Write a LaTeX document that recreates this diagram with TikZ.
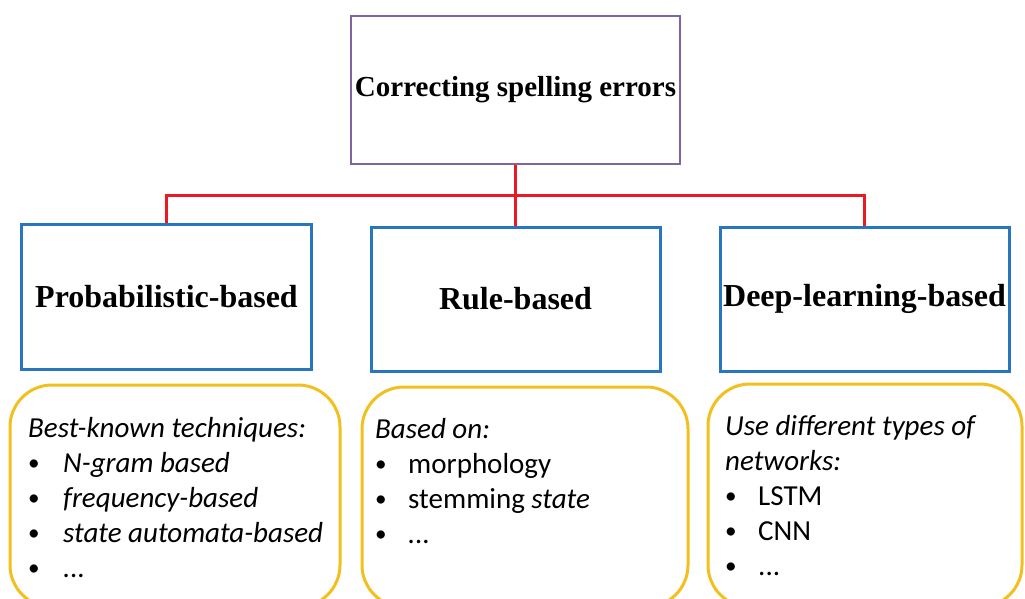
\documentclass[tikz,border=0pt]{standalone}
\usepackage{fontspec}
\setmainfont{Liberation Serif}
\newfontfamily\listfont{Carlito}

\definecolor{rootline}{RGB}{128,100,162}
\definecolor{catline}{RGB}{40,118,190}
\definecolor{noteline}{RGB}{242,192,30}
\definecolor{linkline}{RGB}{235,25,35}

% bullet item with a fixed indent
\newcommand\itm[2][34pt]{\makebox[#1][l]{\raisebox{1.5pt}{\scalebox{0.8}{•}}}#2\\}

\tikzset{
  rootbox/.style={draw=rootline, line width=2.8pt, minimum width=329pt, minimum height=148pt,
                  inner sep=0pt, font=\fontsize{29}{34}\selectfont\bfseries},
  catbox/.style={draw=catline, line width=3pt, minimum width=289pt, minimum height=144pt,
                 inner sep=0pt, font=\fontsize{32}{38}\selectfont\bfseries},
  notebox/.style={draw=noteline, line width=3pt, rounded corners=42pt, inner sep=0pt},
  notetext/.style={anchor=base west, inner sep=0pt, font=\listfont\fontsize{29}{35}\selectfont},
  link/.style={draw=linkline, line width=3pt},
}

\begin{document}
\begin{tikzpicture}[x=1pt,y=-1pt]
\useasboundingbox (0,0) rectangle (1025,598);

% hierarchy boxes
\node[rootbox] (root) at (515.5,90) {Correcting spelling errors};
\node[catbox, minimum width=290pt, minimum height=145pt] (prob) at (166.5,296.5) {Probabilistic-based};
\node[catbox] (rule) at (515.5,299) {Rule-based};
\node[catbox] (deep) at (864.5,299) {Deep-learning-based};

% connectors
\coordinate (bus) at (516,195);
\draw[link] (root.south) -- (rule.north);
\draw[link] (prob.north) |- (bus) -| (deep.north);

% description panels
\node[notebox, minimum width=330pt, minimum height=222pt] (probnote) at (175,496) {};
\node[notebox, minimum width=326pt, minimum height=220pt] (rulenote) at (525,497) {};
\node[notebox, minimum width=314pt, minimum height=223pt] (deepnote) at (865,495.5) {};

\node[notetext] (probtext) at (28,437) {\begin{minipage}[t]{310pt}\raggedright
\textit{Best-known techniques:}\\
\itm[35pt]{\textit{N-gram based}}
\itm[35pt]{\textit{frequency-based}}
\itm[35pt]{\textit{state automata-based}}
\itm[35pt]{\textit{...}}
\end{minipage}};

\node[notetext] (ruletext) at (375,438) {\begin{minipage}[t]{300pt}\raggedright
\textit{Based on:}\\
\itm[33pt]{morphology}
\itm[33pt]{stemming \textit{state}}
\itm[33pt]{\textit{...}}
\end{minipage}};

\node[notetext] (deeptext) at (725,435) {\begin{minipage}[t]{290pt}\raggedright
\textit{Use different types of}\\
\textit{networks:}\\
\itm[33pt]{LSTM}
\itm[33pt]{CNN}
\itm[33pt]{...}
\end{minipage}};
\end{tikzpicture}
\end{document}
